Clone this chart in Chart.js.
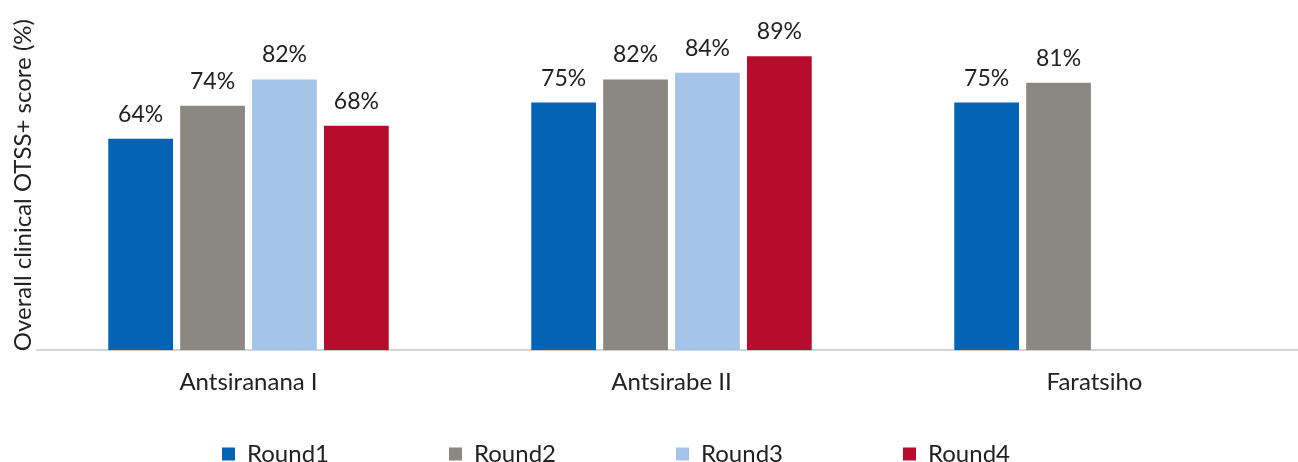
<!DOCTYPE html>
<html>
<head>
<meta charset="utf-8">
<script src="https://cdn.jsdelivr.net/npm/chart.js@4.4.1/dist/chart.umd.min.js"></script>
<style>
  html, body { margin: 0; padding: 0; background: #ffffff; overflow: hidden; }
  #wrap { position: relative; width: 1306px; height: 462px; }
</style>
</head>
<body>
<div id="wrap"><canvas id="c"></canvas></div>
<script>
const categories = ['Antsiranana I', 'Antsirabe II', 'Faratsiho'];
const seriesNames = ['Round1', 'Round2', 'Round3', 'Round4'];
const round1 = [64, 75, 75];
const round2 = [74, 82, 81];
const round3 = [82, 84, null];
const round4 = [68, 89, null];
const seriesColors = ['#0563b6', '#8b8782', '#a5c4e9', '#b70c2c'];
const yAxisTitle = 'Overall clinical OTSS+ score (%)';

const FONT = 'Lato, "Open Sans", sans-serif';
const TEXT = '#222222';

const valueLabels = {
  id: 'valueLabels',
  afterDatasetsDraw(chart) {
    const ctx = chart.ctx;
    ctx.save();
    ctx.font = '23px ' + FONT;
    ctx.fillStyle = TEXT;
    ctx.textAlign = 'center';
    ctx.textBaseline = 'alphabetic';
    chart.data.datasets.forEach((ds, i) => {
      const meta = chart.getDatasetMeta(i);
      meta.data.forEach((el, j) => {
        const v = ds.data[j];
        if (v === null || v === undefined) return;
        ctx.fillText(v + '%', el.x, el.y - 17);
      });
    });
    ctx.restore();
  }
};

const legendNudge = {
  id: 'legendNudge',
  afterLayout(chart) {
    const lg = chart.legend;
    if (!lg) return;
    const P = lg.options.labels.padding;
    lg.left -= 37;
    lg.right -= 37;
    lg.top = 442 - P;
  }
};

new Chart(document.getElementById('c'), {
  type: 'bar',
  data: {
    labels: categories,
    datasets: [
      { label: seriesNames[0], data: round1, backgroundColor: seriesColors[0] },
      { label: seriesNames[1], data: round2, backgroundColor: seriesColors[1] },
      { label: seriesNames[2], data: round3, backgroundColor: seriesColors[2] },
      { label: seriesNames[3], data: round4, backgroundColor: seriesColors[3] }
    ]
  },
  options: {
    responsive: true,
    maintainAspectRatio: false,
    animation: false,
    layout: { padding: { top: 20, left: 0, right: 0, bottom: 0 } },
    datasets: { bar: { categoryPercentage: 0.68, barPercentage: 0.9 } },
    scales: {
      x: {
        grid: { display: false, drawTicks: false },
        border: { display: true, color: '#d4d4d4', width: 2 },
        ticks: { color: TEXT, font: { family: FONT, size: 24 }, padding: 18 }
      },
      y: {
        min: 0, max: 100,
        grid: { display: false, drawTicks: false },
        border: { display: false },
        ticks: { display: false },
        title: {
          display: true, text: yAxisTitle, color: TEXT,
          font: { family: FONT, size: 24, lineHeight: 1.0 },
          padding: { top: 11, bottom: 2 }
        }
      }
    },
    plugins: {
      legend: {
        position: 'bottom',
        maxHeight: 47,
        labels: {
          color: TEXT,
          font: { family: FONT, size: 24 },
          boxWidth: 13, boxHeight: 13,
          padding: 120
        }
      },
      tooltip: { enabled: false }
    }
  },
  plugins: [valueLabels, legendNudge]
});
</script>
</body>
</html>
